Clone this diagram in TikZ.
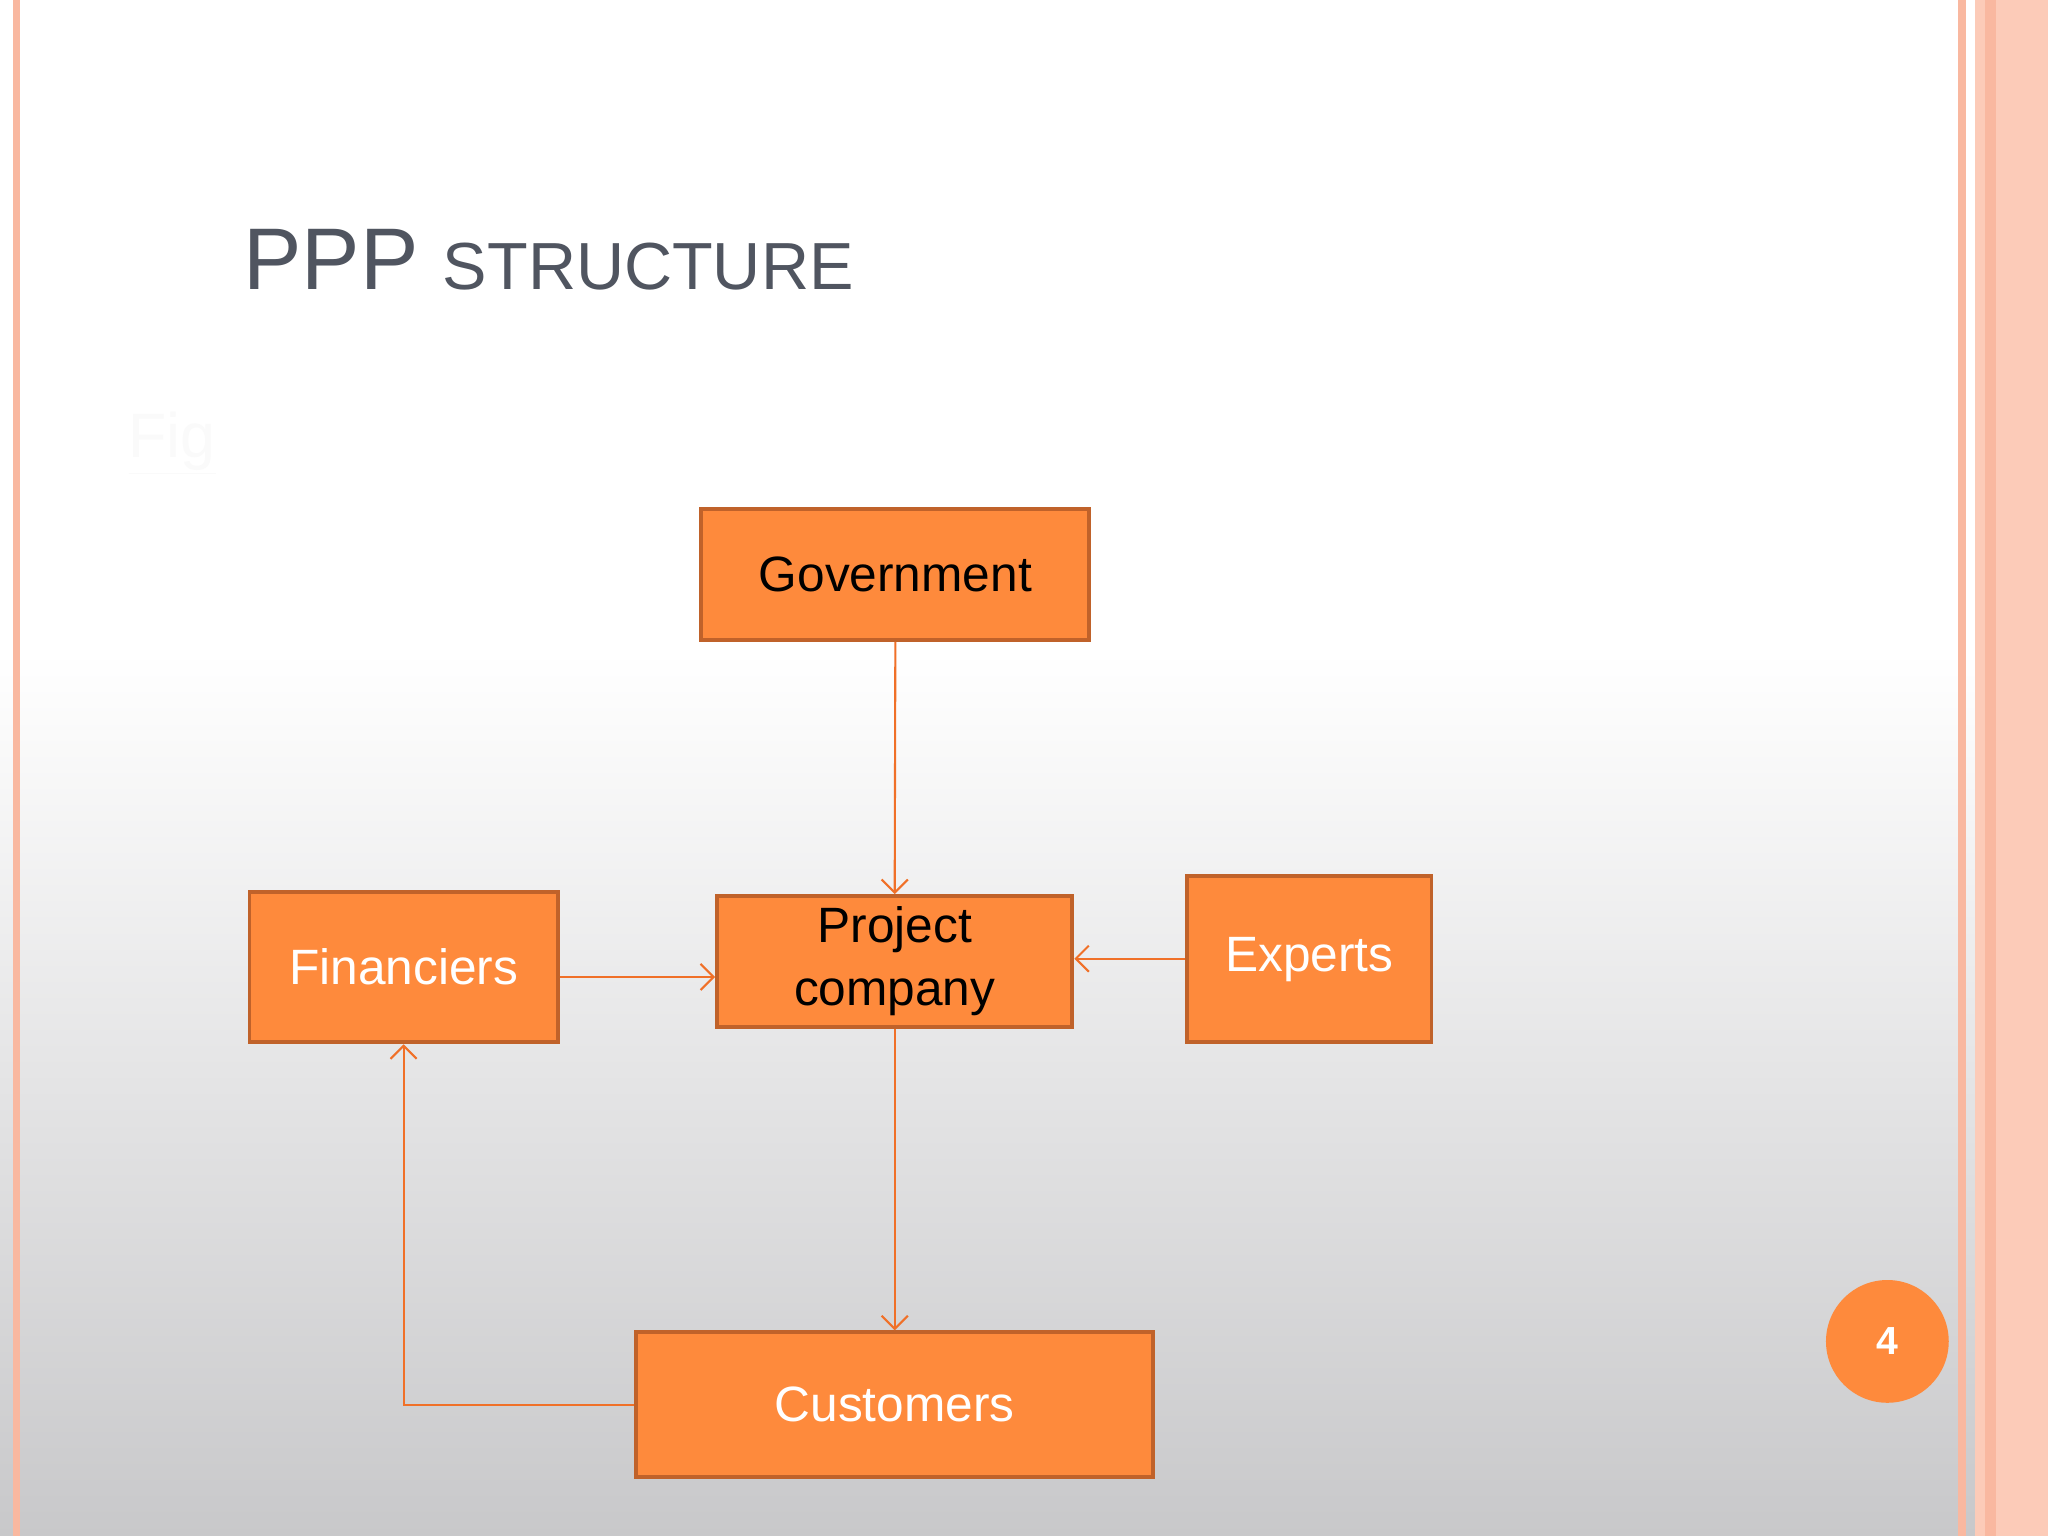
\documentclass[tikz,border=0pt]{standalone}
\usepackage{fontspec}
\setmainfont{Liberation Sans}
\usetikzlibrary{arrows.meta}
\definecolor{boxfill}{HTML}{FE8A3C}
\definecolor{boxline}{HTML}{C0622A}
\definecolor{arr}{HTML}{F07028}
\definecolor{pinkA}{HTML}{F9B8A0}
\definecolor{pinkB}{HTML}{FCCBB8}
\definecolor{titlec}{HTML}{505560}
\definecolor{bgbot}{HTML}{C8C8CA}
\tikzset{
  box/.style={draw=boxline,line width=1.5pt,fill=boxfill,inner sep=0pt,font=\fontsize{19}{24}\selectfont,align=center},
  conn/.style={draw=arr,line width=0.8pt,-{Straight Barb[length=5pt,width=10pt,line width=0.8pt]}}
}
\begin{document}
\begin{tikzpicture}[x=0.5pt,y=-0.5pt]
\useasboundingbox (0,0) rectangle (1568,1176);
\fill[white] (0,0) rectangle (1568,500);
\shade[top color=white,bottom color=bgbot] (0,499) rectangle (1568,1176);
% borders
\fill[pinkA] (10,0) rectangle (15,1176);
\fill[pinkA] (1499,0) rectangle (1505,1176);
\fill[pinkB] (1512,0) rectangle (1520,1176);
\fill[pinkA] (1520,0) rectangle (1528,1176);
\fill[pinkB] (1528,0) rectangle (1568,1176);
% title
\node[anchor=base west,text=titlec,inner sep=0pt] (title) at (186,222)
  {\fontsize{33.5}{40}\selectfont PPP {\fontsize{25.5}{30}\selectfont STRUCTURE}};
\node[anchor=base west,text=white!96!gray,inner sep=0pt] (fig) at (98,350)
  {\fontsize{24}{30}\selectfont\underline{Fig}};
% boxes
\node[box,minimum width=148.5pt,minimum height=50pt] (gov) at (685.5,440) {Government};
\node[box,minimum width=136pt,minimum height=50pt] (pc) at (685,736) {Project\\company};
\node[box,minimum width=118pt,minimum height=57.5pt,text=white] (fin) at (309,740.5) {Financiers};
\node[box,minimum width=93.5pt,minimum height=63.5pt,text=white] (exp) at (1002.5,734.5) {Experts};
\node[box,minimum width=198pt,minimum height=55.5pt,text=white] (cus) at (685,1075.5) {Customers};
% connectors
\draw[conn] (gov.south) -- (pc.north);
\draw[conn] (fin.east |- 0,748) -- (pc.west |- 0,748);
\draw[conn] (exp.west |- 0,734) -- (pc.east |- 0,734);
\draw[conn] (pc.south) -- (cus.north);
\draw[conn] (cus.west) -| (fin.south);
% page number
\node[circle,fill=boxfill,minimum size=47pt,inner sep=0pt,text=white,font=\bfseries\fontsize{15}{17}\selectfont] (pg) at (1445,1027) {4};
\end{tikzpicture}
\end{document}
